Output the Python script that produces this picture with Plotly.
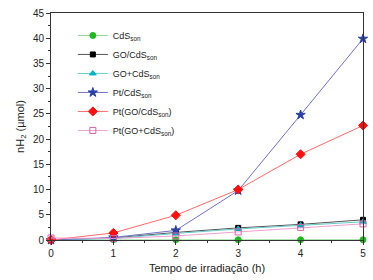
import plotly.graph_objects as go

hours = [0, 1, 2, 3, 4, 5]
cds_son = [0, 0.05, 0.05, 0.05, 0.05, 0.05]
go_cds_son = [0, 0.4, 1.5, 2.4, 3.1, 4.0]
go_plus_cds_son = [0, 0.3, 1.3, 2.2, 2.9, 3.6]
pt_cds_son = [0, 0.5, 1.9, 9.8, 24.8, 39.9]
pt_go_cds_son = [0, 1.4, 4.9, 10.0, 17.0, 22.7]
pt_go_plus_cds_son = [0.4, 0.3, 0.8, 1.6, 2.5, 3.2]

series = [
    ("CdS<sub>son</sub>", cds_son, "#8fdc8f", "#1fb81f", "circle", 6),
    ("GO/CdS<sub>son</sub>", go_cds_son, "#555555", "#000000", "square", 5),
    ("GO+CdS<sub>son</sub>", go_plus_cds_son, "#66cccc", "#00b5c8", "triangle-up", 6),
    ("Pt/CdS<sub>son</sub>", pt_cds_son, "#7070c8", "#2a40a8", "star", 7),
    ("Pt(GO/CdS<sub>son</sub>)", pt_go_cds_son, "#ff6a6a", "#ff1010", "diamond", 7),
    ("Pt(GO+CdS<sub>son</sub>)", pt_go_plus_cds_son, "#f0a0d0", "#e060a8", "square-open", 6),
]

fig = go.Figure()
for name, ys, lc, mc, sym, sz in series:
    fig.add_trace(go.Scatter(
        x=hours, y=ys, name=name, mode="lines+markers",
        line=dict(color=lc, width=1),
        marker=dict(symbol=sym, size=sz, color=mc, line=dict(color=mc, width=1)),
        cliponaxis=False,
    ))

axis_common = dict(
    showgrid=False, zeroline=False, showline=True, linecolor="#333333", linewidth=1,
    mirror=True, ticks="outside", ticklen=4, tickcolor="#333333",
    tickfont=dict(family="Liberation Sans, Arial", size=10, color="#222222"),
)

fig.update_layout(
    width=373, height=280,
    margin=dict(l=51, r=8, t=7, b=40),
    paper_bgcolor="white", plot_bgcolor="white",
    font=dict(family="Liberation Sans, Arial", size=10, color="#222222"),
    xaxis=dict(range=[0, 5], dtick=1,
               title=dict(text="Tempo de irradiação (h)", font=dict(size=11), standoff=6),
               minor=dict(ticks="outside", ticklen=2, tickcolor="#333333", dtick=0.5),
               **axis_common),
    yaxis=dict(range=[0, 45], dtick=5,
               title=dict(text="nH<sub>2</sub> (µmol)", font=dict(size=11), standoff=6),
               minor=dict(ticks="outside", ticklen=2, tickcolor="#333333", dtick=2.5),
               **axis_common),
    legend=dict(x=0.07, y=0.965, xanchor="left", yanchor="top", bgcolor="rgba(0,0,0,0)",
                font=dict(size=9), itemwidth=30, tracegroupgap=0),
    showlegend=True,
)

fig.write_html(
    "out.html",
    config={"displayModeBar": False},
    post_script="document.body.style.margin='0';document.body.style.overflow='hidden';",
)
